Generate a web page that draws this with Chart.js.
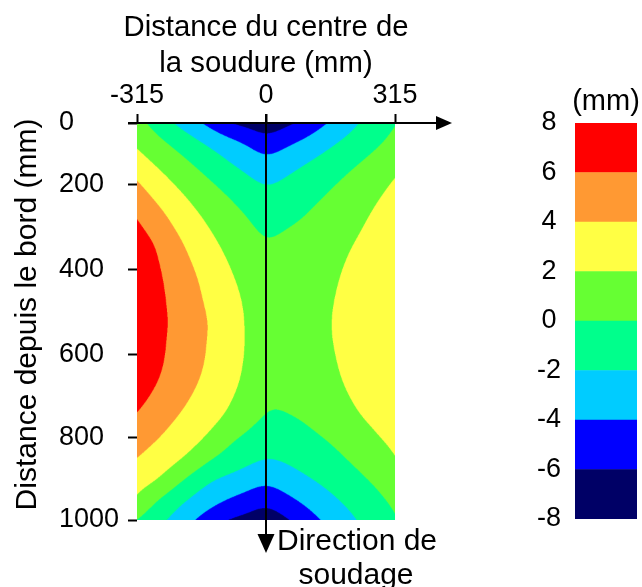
<!DOCTYPE html>
<html><head><meta charset="utf-8">
<script src="https://cdn.jsdelivr.net/npm/chart.js@4.4.0/dist/chart.umd.min.js"></script>
<style>
html,body{margin:0;padding:0;background:#fff;overflow:hidden}
#wrap{position:relative;width:642px;height:587px}
#main{position:absolute;left:0;top:0}
#bar{position:absolute;left:500px;top:0}
</style></head><body>
<div id="wrap"><canvas id="main" width="642" height="587"></canvas><canvas id="bar" width="142" height="587"></canvas></div>
<script>
// ---- data ----
const xGrid = [-315,-270,-225,-180,-135,-90,-45,0,45,90,135,180,225,270,315];
const yGrid = [0,50,100,150,200,250,300,350,400,450,500,550,600,650,700,750,800,850,900,950,1000];
const z0    = [0.7,-0.65,-2.05,-3.3,-4.65,-6.05,-6.6,-7.4,-6.5,-5.66,-4.4,-3.2,-2.05,-0.96,-0.1];
const z50   = [1.6,0.65,-0.32,-1.34,-2.32,-3.22,-4.1,-5.35,-4.45,-3.62,-2.72,-1.85,-1.08,-0.31,0.5];
const z100  = [2.87,1.78,0.86,-0.06,-1.01,-1.96,-2.7,-3.5,-2.8,-2.12,-1.44,-0.76,-0.08,0.69,1.47];
const z150  = [4.14,3.0,1.9,1.01,0.12,-0.73,-1.57,-2.25,-1.76,-1.15,-0.55,0.07,0.8,1.54,2.2];
const z200  = [5.21,4.02,2.92,1.89,1.06,0.22,-0.59,-1.4,-0.91,-0.42,0.09,0.74,1.4,2.03,2.5];
const z250  = [6.2,5.14,3.72,2.67,1.73,0.96,0.19,-0.69,-0.32,0.09,0.67,1.24,1.82,2.33,2.8];
const z300  = [6.7,6.05,4.61,3.36,2.31,1.48,0.74,0.0,0.42,0.87,1.28,1.68,2.1,2.5,3.0];
const z350  = [7.1,6.26,5.15,3.94,2.91,1.9,1.16,0.4,0.77,1.14,1.5,1.88,2.3,2.75,3.2];
const z400  = [7.4,6.45,5.44,4.38,3.34,2.32,1.46,0.67,1.0,1.34,1.67,2.01,2.5,2.95,3.35];
const z450  = [7.6,6.59,5.58,4.58,3.6,2.65,1.73,0.83,1.14,1.46,1.77,2.1,2.6,3.05,3.4];
const z500  = [7.6,6.65,5.72,4.82,3.9,2.85,1.82,0.9,1.21,1.51,1.82,2.15,2.65,3.1,3.45];
const z550  = [7.5,6.55,5.62,4.72,3.81,2.84,1.87,0.87,1.18,1.49,1.8,2.12,2.6,3.05,3.4];
const z600  = [7.3,6.44,5.55,4.63,3.71,2.76,1.79,0.74,1.06,1.38,1.71,2.05,2.5,2.95,3.3];
const z650  = [7.0,6.17,5.26,4.33,3.44,2.56,1.61,0.5,0.86,1.22,1.58,1.94,2.4,2.85,3.2];
const z700  = [6.5,5.58,4.69,3.82,2.99,2.17,1.18,0.12,0.2,0.7,1.2,1.7,2.2,2.65,3.0];
const z750  = [5.64,4.82,4.0,3.24,2.47,1.6,0.54,-0.29,-0.25,-0.03,0.52,1.19,1.87,2.3,2.6];
const z800  = [4.77,4.05,3.3,2.53,1.56,0.16,-0.58,-1.24,-1.0,-0.54,-0.19,0.36,1.13,1.9,2.3];
const z850  = [3.9,3.17,2.44,1.39,-0.05,-0.82,-1.58,-2.1,-1.87,-1.35,-0.82,-0.29,0.36,1.18,1.95];
const z900  = [2.87,2.28,0.77,-0.82,-2.03,-2.56,-3.1,-3.7,-3.0,-2.36,-1.71,-1.06,-0.42,0.27,1.1];
const z950  = [1.7,0.05,-1.28,-2.36,-3.26,-4.11,-4.75,-5.6,-4.6,-3.68,-2.82,-1.96,-1.18,-0.4,0.3];
const z1000 = [-0.05,-1.23,-2.49,-3.8,-5.12,-6.14,-6.65,-7.4,-6.35,-5.15,-3.93,-2.93,-1.93,-0.91,-0.15];
const zRows = [z0,z50,z100,z150,z200,z250,z300,z350,z400,z450,z500,z550,z600,z650,z700,z750,z800,z850,z900,z950,z1000];

const xTickValues = [-315, 0, 315];
const yTickPositions = [0, 156, 370, 584, 793, 1000];
const yTickLabels = ['0', '200', '400', '600', '800', '1000'];
const levels = [-8, -6, -4, -2, 0, 2, 4, 6, 8];
const bandColors = ['#000066', '#0000ff', '#00ccff', '#00ff8c', '#66ff33', '#ffff44', '#ff9933', '#ff0000'];

const xTitle = ['Distance du centre de', 'la soudure (mm)'];
const yTitle = 'Distance depuis le bord (mm)';
const dirText = ['Direction de', 'soudage'];
const unitText = '(mm)';

const FONT = "'Liberation Sans', Arial, sans-serif";

// ---- helpers ----
const gridPoints = [];
yGrid.forEach((yv, j) => xGrid.forEach((xv, i) => gridPoints.push({x: xv, y: yv, v: zRows[j][i]})));

function gv(i, j) {
  const nx = xGrid.length, ny = yGrid.length;
  if (i < 0) return 2 * gv(0, j) - gv(1, j);
  if (i >= nx) return 2 * gv(nx - 1, j) - gv(nx - 2, j);
  if (j < 0) return 2 * gv(i, 0) - gv(i, 1);
  if (j >= ny) return 2 * gv(i, ny - 1) - gv(i, ny - 2);
  return zRows[j][i];
}
// uniform cubic B-spline (smooth surface through the read grid)
function bs(p0, p1, p2, p3, t) {
  const t2 = t * t, t3 = t2 * t, u = 1 - t;
  return (u * u * u * p0 + (3 * t3 - 6 * t2 + 4) * p1 + (-3 * t3 + 3 * t2 + 3 * t + 1) * p2 + t3 * p3) / 6;
}
function cell(arr, v) {
  let i = 0;
  while (i < arr.length - 2 && v >= arr[i + 1]) i++;
  let t = (v - arr[i]) / (arr[i + 1] - arr[i]);
  return [i, Math.max(0, Math.min(1, t))];
}
function sampleField(xv, yv) {
  const [i, tx] = cell(xGrid, xv);
  const [j, ty] = cell(yGrid, yv);
  const c = [];
  for (let dj = -1; dj <= 2; dj++) {
    c.push(bs(gv(i - 1, j + dj), gv(i, j + dj), gv(i + 1, j + dj), gv(i + 2, j + dj), tx));
  }
  return bs(c[0], c[1], c[2], c[3], ty);
}
function hexRGB(h) { return [parseInt(h.slice(1, 3), 16), parseInt(h.slice(3, 5), 16), parseInt(h.slice(5, 7), 16)]; }
const bandRGB = bandColors.map(hexRGB);

const fieldPlugin = {
  id: 'field',
  beforeDatasetsDraw(chart) {
    const {ctx, chartArea: a, scales: {x, y}} = chart;
    const ss = 3;
    const w = Math.round(a.right - a.left), h = Math.round(a.bottom - a.top);
    const W = w * ss, H = h * ss;
    const off = document.createElement('canvas');
    off.width = W; off.height = H;
    const octx = off.getContext('2d');
    const img = octx.createImageData(W, H);
    const d = img.data;
    const xs = new Float64Array(W);
    for (let px = 0; px < W; px++) xs[px] = x.getValueForPixel(a.left + (px + 0.5) / ss);
    for (let py = 0; py < H; py++) {
      const yv = y.getValueForPixel(a.top + (py + 0.5) / ss);
      for (let px = 0; px < W; px++) {
        const v = sampleField(xs[px], yv);
        let k = 0;
        while (k < bandRGB.length - 1 && v >= levels[k + 1]) k++;
        const c = bandRGB[k];
        const o = (py * W + px) * 4;
        d[o] = c[0]; d[o + 1] = c[1]; d[o + 2] = c[2]; d[o + 3] = 255;
      }
    }
    octx.putImageData(img, 0, 0);
    ctx.save();
    ctx.imageSmoothingEnabled = true;
    ctx.imageSmoothingQuality = 'high';
    ctx.drawImage(off, a.left, a.top, w, h);
    ctx.restore();
  }
};

const decoPlugin = {
  id: 'deco',
  afterDraw(chart) {
    const {ctx, chartArea: a, scales: {x}} = chart;
    const x0 = x.getPixelForValue(0);
    ctx.save();
    ctx.strokeStyle = '#000'; ctx.fillStyle = '#000'; ctx.lineWidth = 2;
    // top axis line with arrow
    const tipX = a.right + 57;
    ctx.beginPath(); ctx.moveTo(a.left - 9, a.top); ctx.lineTo(tipX - 10, a.top); ctx.stroke();
    ctx.beginPath(); ctx.moveTo(tipX, a.top); ctx.lineTo(tipX - 16, a.top - 7); ctx.lineTo(tipX - 16, a.top + 7); ctx.closePath(); ctx.fill();
    // vertical weld line with arrow
    const tipY = a.bottom + 33;
    ctx.beginPath(); ctx.moveTo(x0, a.top - 9); ctx.lineTo(x0, tipY - 10); ctx.stroke();
    ctx.beginPath(); ctx.moveTo(x0, tipY); ctx.lineTo(x0 - 8.5, tipY - 19); ctx.lineTo(x0 + 8.5, tipY - 19); ctx.closePath(); ctx.fill();
    // x axis title (two lines, centred on the weld line)
    ctx.textAlign = 'center'; ctx.textBaseline = 'alphabetic';
    ctx.font = '29.3px ' + FONT;
    ctx.fillText(xTitle[0], x0, 36);
    ctx.fillText(xTitle[1], x0, 72);
    // direction text
    ctx.font = '30px ' + FONT;
    ctx.fillText(dirText[0], x0 + 91, a.bottom + 30);
    ctx.fillText(dirText[1], x0 + 90, a.bottom + 64);
    // y axis title (rotated)
    ctx.save();
    ctx.translate(28, (a.top + a.bottom) / 2 - 7);
    ctx.rotate(-Math.PI / 2);
    ctx.textBaseline = 'middle';
    ctx.font = '30px ' + FONT;
    ctx.fillText(yTitle, 0, 0);
    ctx.restore();
    ctx.restore();
  }
};

new Chart(document.getElementById('main'), {
  type: 'scatter',
  data: { datasets: [{ data: gridPoints, pointRadius: 0, pointHoverRadius: 0, showLine: false }] },
  options: {
    responsive: false, animation: false, devicePixelRatio: 1, events: [],
    layout: { padding: { left: 59, top: 0, right: 247, bottom: 67 } },
    plugins: { legend: { display: false }, tooltip: { enabled: false } },
    scales: {
      x: {
        type: 'linear', position: 'top', min: -315, max: 315,
        afterBuildTicks: s => { s.ticks = xTickValues.map(v => ({ value: v })); },
        afterFit: s => { s.height = 123; },
        ticks: { autoSkip: false, maxRotation: 0, minRotation: 0, color: '#000', font: { family: FONT, size: 27 }, padding: 2, callback: v => String(v) },
        grid: { drawOnChartArea: false, drawTicks: true, tickLength: 9, tickWidth: 2, tickColor: '#000' },
        border: { display: false }
      },
      y: {
        type: 'linear', position: 'left', reverse: true, min: 0, max: 1000,
        afterBuildTicks: s => { s.ticks = yTickPositions.map(v => ({ value: v })); },
        afterFit: s => { s.width = 78; },
        ticks: { autoSkip: false, crossAlign: 'far', padding: 9, color: '#000', font: { family: FONT, size: 27 }, callback: (v, i) => yTickLabels[i] },
        grid: { drawOnChartArea: false, drawTicks: true, tickLength: 9, tickWidth: 2, tickColor: '#000' },
        border: { display: false }
      }
    }
  },
  plugins: [fieldPlugin, decoPlugin]
});

const unitPlugin = {
  id: 'unit',
  afterDraw(chart) {
    const {ctx, chartArea: a} = chart;
    ctx.save();
    ctx.font = '29px ' + FONT; ctx.fillStyle = '#000';
    ctx.textAlign = 'center'; ctx.textBaseline = 'middle';
    ctx.fillText(unitText, (a.left + a.right) / 2, a.top - 21);
    ctx.restore();
  }
};

new Chart(document.getElementById('bar'), {
  type: 'bar',
  data: {
    labels: [''],
    datasets: bandColors.map((c, k) => ({ data: [[levels[k], levels[k + 1]]], backgroundColor: c, borderWidth: 0, grouped: false, barPercentage: 1, categoryPercentage: 1 }))
  },
  options: {
    responsive: false, animation: false, devicePixelRatio: 1, events: [],
    layout: { padding: { left: 0, top: 123, right: 5, bottom: 68 } },
    plugins: { legend: { display: false }, tooltip: { enabled: false } },
    scales: {
      x: { display: false },
      y: {
        min: -8, max: 8,
        afterBuildTicks: s => { s.ticks = levels.map(v => ({ value: v })); },
        afterFit: s => { s.width = 75; },
        ticks: { autoSkip: false, crossAlign: 'center', padding: 14, color: '#000', font: { family: FONT, size: 27 }, callback: v => String(v) },
        grid: { display: false, drawTicks: false },
        border: { display: false }
      }
    }
  },
  plugins: [unitPlugin]
});
</script>
</body></html>
